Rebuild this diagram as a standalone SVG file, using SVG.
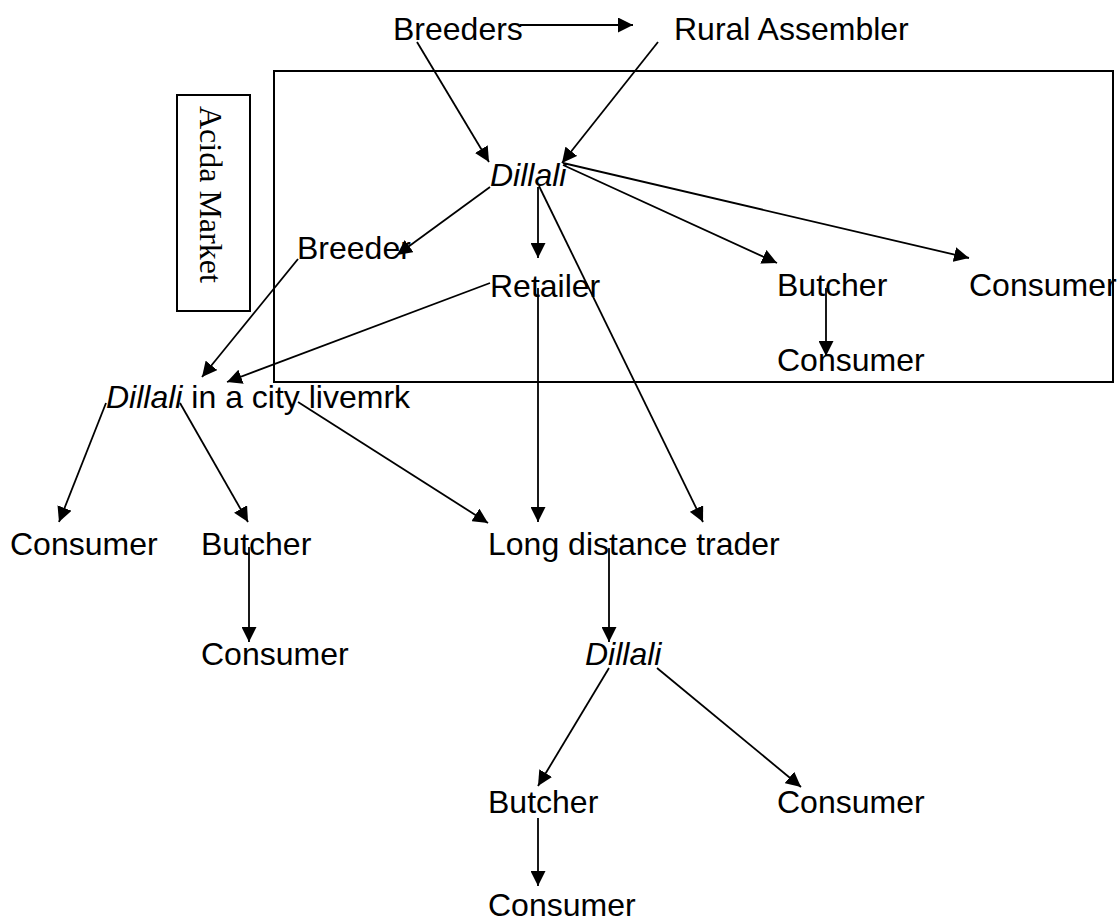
<svg xmlns="http://www.w3.org/2000/svg" width="1117" height="924" viewBox="0 0 1117 924">
<style>
.t{font-family:"Liberation Sans",Arial,sans-serif;font-size:32px;fill:#000}
.i{font-style:italic}
.s{font-family:"Liberation Serif","Times New Roman",serif;font-size:32px;fill:#000}
.box{fill:none;stroke:#000;stroke-width:2}
.c line{stroke:#000;stroke-width:1.8;fill:none}
.a{marker-end:url(#ah)}
</style>
<defs>
<marker id="ah" markerUnits="userSpaceOnUse" markerWidth="16" markerHeight="15" refX="15" refY="7.5" orient="auto">
<path d="M0,0 L15,7.5 L0,15 z" fill="#000"/>
</marker>
</defs>
<rect fill="#fff" x="0" y="0" width="1117" height="924"/>
<g id="acida-market-box">
<rect class="box" x="274" y="71" width="839" height="311"/>
</g>
<g id="acida-label">
<rect class="box" x="177" y="95" width="73" height="216"/>
<text class="s" transform="translate(200,106) rotate(90)">Acida Market</text>
</g>
<g id="n-breeders"><text class="t" x="393" y="40">Breeders</text></g>
<g id="n-rural"><text class="t" x="674" y="40">Rural Assembler</text></g>
<g id="n-dillali1"><text class="t i" x="490" y="186">Dillali</text></g>
<g id="n-breeder"><text class="t" x="297" y="259">Breeder</text></g>
<g id="n-retailer"><text class="t" x="490" y="297">Retailer</text></g>
<g id="n-butcher1"><text class="t" x="777" y="296">Butcher</text></g>
<g id="n-consumer1"><text class="t" x="969" y="296">Consumer</text></g>
<g id="n-consumer2"><text class="t" x="777" y="371">Consumer</text></g>
<g id="n-city"><text class="t" x="106" y="408"><tspan class="i">Dillali</tspan> in a city livemrk</text></g>
<g id="n-consumer3"><text class="t" x="10" y="555">Consumer</text></g>
<g id="n-butcher2"><text class="t" x="201" y="555">Butcher</text></g>
<g id="n-consumer4"><text class="t" x="201" y="665">Consumer</text></g>
<g id="n-ldt"><text class="t" x="488" y="555">Long distance trader</text></g>
<g id="n-dillali2"><text class="t i" x="585" y="665">Dillali</text></g>
<g id="n-butcher3"><text class="t" x="488" y="813">Butcher</text></g>
<g id="n-consumer5"><text class="t" x="777" y="813">Consumer</text></g>
<g id="n-consumer6"><text class="t" x="488" y="916">Consumer</text></g>
<g id="connectors" class="c">
<line class="a" x1="520" y1="25" x2="633" y2="25"/>
<line class="a" x1="417" y1="42" x2="489" y2="162"/>
<line class="a" x1="658" y1="42" x2="562" y2="163"/>
<line class="a" x1="490" y1="187" x2="397" y2="255"/>
<line class="a" x1="538" y1="187" x2="538" y2="258"/>
<line class="a" x1="563" y1="165" x2="777" y2="263"/>
<line class="a" x1="563" y1="163" x2="969" y2="258"/>
<line class="a" x1="539" y1="186" x2="703" y2="522"/>
<line class="a" x1="538" y1="288" x2="538" y2="522"/>
<line class="a" x1="826" y1="288" x2="826" y2="356"/>
<line class="a" x1="298" y1="259" x2="202" y2="377"/>
<line class="a" x1="490" y1="283" x2="227" y2="382"/>
<line class="a" x1="106" y1="403" x2="59" y2="522"/>
<line class="a" x1="180" y1="403" x2="248" y2="522"/>
<line class="a" x1="298" y1="402" x2="488" y2="523"/>
<line class="a" x1="249" y1="547" x2="249" y2="642"/>
<line class="a" x1="609" y1="548" x2="609" y2="642"/>
<line class="a" x1="609" y1="668" x2="538" y2="786"/>
<line class="a" x1="657" y1="668" x2="801" y2="787"/>
<line class="a" x1="538" y1="818" x2="538" y2="886"/>
</g>
</svg>
